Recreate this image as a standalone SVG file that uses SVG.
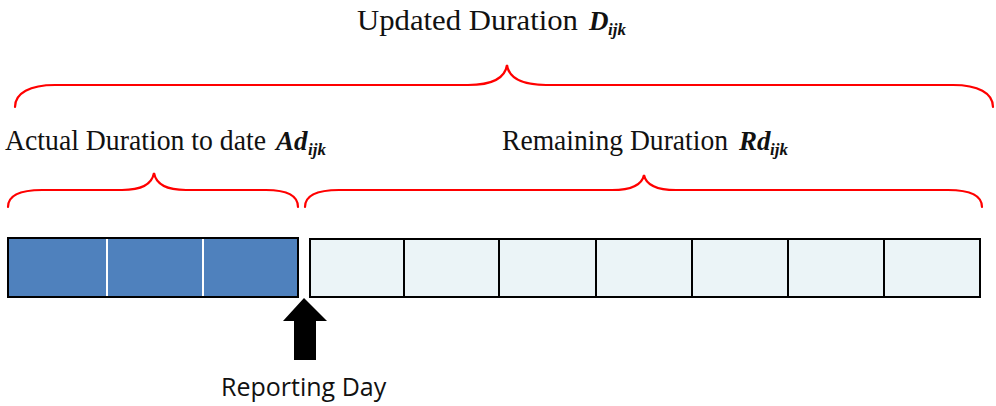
<svg xmlns="http://www.w3.org/2000/svg" width="996" height="406" viewBox="0 0 996 406">
<style>
.brace{fill:none;stroke:#ff0000;stroke-width:2.2;stroke-linecap:round}
.lbl{font-family:"Liberation Serif",serif;font-size:29px;fill:#111}
.sym{font-family:"Liberation Serif",serif;font-size:27px;font-weight:bold;font-style:italic;fill:#111}
.sub{font-family:"Liberation Serif",serif;font-size:17px;font-weight:bold;font-style:italic;fill:#111}
.done{fill:#4f81bd;stroke:#000;stroke-width:2}
.todo{fill:#ebf4f7;stroke:#000;stroke-width:2}
.wdiv{stroke:#fff;stroke-width:2}
.bdiv{stroke:#000;stroke-width:2}
.rep{font-family:"Open Sans",sans-serif;font-size:25px;fill:#111}
</style>
<rect width="996" height="406" fill="#fff"/>
<g id="label-updated">
<text class="lbl" x="357" y="30" textLength="221" lengthAdjust="spacingAndGlyphs">Updated Duration</text>
<text class="sym" x="589" y="30">D</text>
<text class="sub" x="608" y="35">ijk</text>
</g>
<g id="label-actual">
<text class="lbl" x="5" y="150" textLength="261" lengthAdjust="spacingAndGlyphs">Actual Duration to date</text>
<text class="sym" x="276" y="150">Ad</text>
<text class="sub" x="308" y="155">ijk</text>
</g>
<g id="label-remaining">
<text class="lbl" x="502" y="150" textLength="226" lengthAdjust="spacingAndGlyphs">Remaining Duration</text>
<text class="sym" x="739" y="150">Rd</text>
<text class="sub" x="770" y="155">ijk</text>
</g>
<g id="braces">
<path class="brace" d="M15,107 C15,93 30,85 55,85 L468,85 C490,85 505,79 507,65 C509,79 524,85 546,85 L953,85 C978,85 993,93 993,107"/>
<path class="brace" d="M8,207 C8,196 20,190 42,190 L122,190 C142,190 152,184 154,173 C156,184 166,190 186,190 L266,190 C288,190 298,196 298,207"/>
<path class="brace" d="M305,207 C305,196 317,190 339,190 L612,190 C632,190 642,185 644,175 C646,185 656,190 676,190 L948,190 C970,190 982,196 982,207"/>
</g>
<g id="actual-bar">
<rect class="done" x="8" y="238" width="290" height="59"/>
<line class="wdiv" x1="107" y1="239" x2="107" y2="296"/>
<line class="wdiv" x1="203" y1="239" x2="203" y2="296"/>
</g>
<g id="remaining-bar">
<rect class="todo" x="310" y="239" width="670" height="58"/>
<line class="bdiv" x1="404" y1="239" x2="404" y2="297"/>
<line class="bdiv" x1="499" y1="239" x2="499" y2="297"/>
<line class="bdiv" x1="596" y1="239" x2="596" y2="297"/>
<line class="bdiv" x1="692" y1="239" x2="692" y2="297"/>
<line class="bdiv" x1="788" y1="239" x2="788" y2="297"/>
<line class="bdiv" x1="884" y1="239" x2="884" y2="297"/>
</g>
<g id="reporting-day">
<polygon points="304,298 327,321 316,321 316,360 294,360 294,321 283,321" fill="#000"/>
<text class="rep" x="221" y="396">Reporting Day</text>
</g>
</svg>
